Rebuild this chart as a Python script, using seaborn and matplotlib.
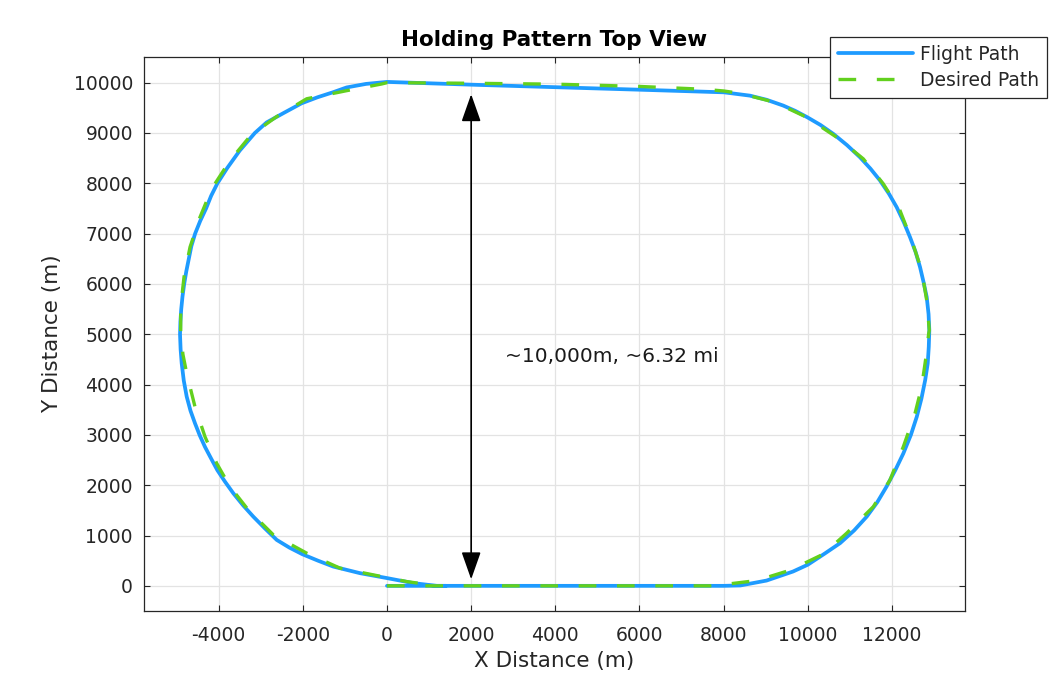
import numpy as np
import pandas as pd
import matplotlib
matplotlib.use("Agg")
import matplotlib.pyplot as plt
import seaborn as sns

# ---- data (metres) ----
flight_x = [0, 2000, 4000, 6000, 8000, 8400, 9020, 9650, 10000, 10400, 10770, 11100,
            11400, 11650, 11870, 12080, 12270, 12450, 12590, 12700, 12790, 12850,
            12875, 12888, 12870, 12826, 12750, 12667, 12560, 12429, 12280, 12112,
            11930, 11716, 11490, 11240, 10930, 10606, 10300, 9989, 9700, 9418,
            9020, 8626, 8009, 6000, 4000, 2000, 0, -500, -960, -1280, -1650, -2030,
            -2450, -2860, -3140, -3500, -3800, -4030, -4180, -4300, -4440, -4560,
            -4650, -4710, -4770, -4820, -4860, -4890, -4910, -4919, -4905, -4879,
            -4830, -4760, -4670, -4563, -4450, -4325, -4180, -4033, -3850, -3653,
            -3420, -3177, -2900, -2621, -2320, -2013, -1640, -1276, -642, 7, 625,
            1181, 1400]
flight_y = [0, 0, 0, 0, 0, 8, 105, 285, 420, 640, 850, 1100,
            1375, 1660, 1970, 2300, 2630, 3000, 3360, 3720, 4090, 4420,
            4750, 5080, 5400, 5740, 6040, 6336, 6640, 6930, 7230, 7526,
            7790, 8056, 8290, 8518, 8760, 8982, 9160, 9312, 9440, 9544,
            9660, 9742, 9808, 9860, 9910, 9960, 10015, 9975, 9905, 9810, 9710, 9590,
            9400, 9210, 9000, 8650, 8300, 8000, 7750, 7500, 7250, 7000,
            6750, 6500, 6250, 6000, 5750, 5500, 5250, 5000, 4700, 4420,
            4080, 3760, 3480, 3230, 2990, 2760, 2530, 2300, 2070, 1840,
            1600, 1375, 1140, 913, 760, 629, 500, 383, 252, 153, 54,
            0, 0]

desired_x = [0, 2000, 4000, 6000, 7914, 8073, 8786, 9577, 10369, 10924, 11557,
             11953, 12270, 12548, 12706, 12809, 12873, 12888, 12826, 12706, 12469,
             12191, 11794, 11319, 10687, 9974, 9221, 8389, 8000, 7500, 6000, 4000,
             2000, 0, -126, -958, -1908, -2633, -3230, -3731, -4166, -4444, -4681,
             -4824, -4903, -4903, -4850, -4760, -4563, -4325, -4047, -3731, -3296,
             -2700, -1908, -1117, -325, 468, 1181]
desired_y = [0, 0, 0, 0, 0, 33, 105, 310, 630, 1046, 1573,
             2103, 2764, 3426, 3954, 4550, 5013, 5079, 5675, 6270, 6865,
             7460, 7990, 8486, 8915, 9312, 9609, 9788, 9835, 9870, 9925, 9970,
             9988, 10000, 9974, 9841, 9680, 9320, 8960, 8452, 7891, 7327, 6732,
             6137, 5542, 5000, 4600, 4220, 3558, 2963, 2434, 1970, 1508,
             1012, 649, 351, 218, 85, 0]

series_names = ["Flight Path", "Desired Path"]
x_ticks = [-4000, -2000, 0, 2000, 4000, 6000, 8000, 10000, 12000]
y_ticks = [0, 1000, 2000, 3000, 4000, 5000, 6000, 7000, 8000, 9000, 10000]
arrow_x = 2000
arrow_y = [130, 9770]
note_xy = (2804, 4550)
note_text = "~10,000m, ~6.32 mi"

# ---- style ----
sns.set_theme(style="whitegrid")
plt.rcParams["font.family"] = ["DejaVu Sans"]
plt.rcParams["axes.edgecolor"] = "#262626"
plt.rcParams["grid.color"] = "#e3e3e3"

fig = plt.figure(figsize=(10.58, 6.84), dpi=100)
ax = fig.add_axes([144 / 1058, 1 - 611 / 684, (965 - 144) / 1058, (611 - 57) / 684])

blue = "#1e9bff"
green = "#62d01e"

flight_df = pd.DataFrame({"x": flight_x, "y": flight_y})
desired_df = pd.DataFrame({"x": desired_x, "y": desired_y})

sns.lineplot(data=flight_df, x="x", y="y", sort=False, estimator=None, ax=ax,
             color=blue, linewidth=2.7, label=series_names[0])
sns.lineplot(data=desired_df, x="x", y="y", sort=False, estimator=None, ax=ax,
             color=green, linewidth=2.4, label=series_names[1])
ax.lines[0].set_solid_joinstyle("round")
ax.lines[1].set_linestyle((0, (5.3, 6.2)))

ax.set_xlim(-5775, 13736)
ax.set_ylim(-500, 10510)
ax.set_xticks(x_ticks)
ax.set_yticks(y_ticks)
ax.set_xticklabels([str(v) for v in x_ticks])
ax.set_yticklabels([str(v) for v in y_ticks])

ax.grid(True, color="#e3e3e3", linewidth=0.9)
for s in ax.spines.values():
    s.set_visible(True)
    s.set_color("#262626")
    s.set_linewidth(0.9)

ax.tick_params(axis="both", which="both", direction="in", length=4.5, width=0.8,
               color="#262626", top=True, right=True, labelsize=13.5,
               labelcolor="#262626", bottom=True, left=True)
ax.tick_params(axis="x", pad=11)
ax.tick_params(axis="y", pad=8)

ax.set_xlabel("X Distance (m)", fontsize=15.5, color="#262626", labelpad=4)
ax.set_ylabel("Y Distance (m)", fontsize=15.5, color="#262626", labelpad=8)
ax.set_title("Holding Pattern Top View", fontsize=15.5, fontweight="bold",
             color="black", pad=8)

# double-headed arrow and note
ax.annotate("", xy=(arrow_x, arrow_y[1]), xytext=(arrow_x, arrow_y[0]),
            arrowprops=dict(arrowstyle="<|-|>,head_length=0.85,head_width=0.3",
                            color="black", lw=1.2, mutation_scale=20,
                            shrinkA=0, shrinkB=0))
ax.text(note_xy[0], note_xy[1], note_text, fontsize=14.5, ha="left", va="center",
        color="#1a1a1a")

leg = ax.legend(loc="upper right", bbox_to_anchor=(1047 / 1058, 1 - 37 / 684),
                bbox_transform=fig.transFigure, fontsize=13.5, frameon=True,
                fancybox=False, framealpha=1, edgecolor="#262626",
                handlelength=4.0, borderpad=0.4, labelspacing=0.4,
                handletextpad=0.4, borderaxespad=0)
leg.get_frame().set_linewidth(0.9)
for t in leg.get_texts():
    t.set_color("#262626")

fig.savefig("out.png", dpi=100, facecolor="white")
